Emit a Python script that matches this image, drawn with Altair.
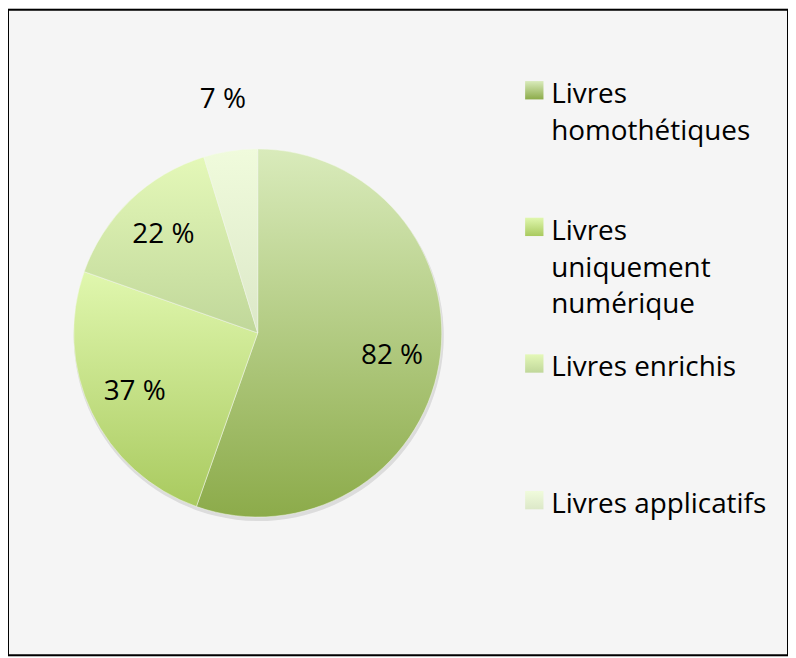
import altair as alt
import pandas as pd

categories = ["Livres homothétiques", "Livres uniquement numérique", "Livres enrichis", "Livres applicatifs"]
legend_labels = ["Livres\nhomothétiques", "Livres\nuniquement\nnumérique", "Livres enrichis", "Livres applicatifs"]
values = [82, 37, 22, 7]
label_texts = ["82 %", "37 %", "22 %", "7 %"]
top_colors = ["#d9ebbb", "#e0f7ae", "#e4f8b8", "#f0fbdc"]
bottom_colors = ["#8cab4a", "#a9ca5f", "#c0d79a", "#dce8c8"]

df = pd.DataFrame({
    "cat": categories,
    "legend": legend_labels,
    "value": values,
    "label": label_texts,
    "idx": list(range(len(categories))),
})

W, H = 784, 649
CX, CY = 251, 325
R = 185
FONT = "Open Sans"
FS = 28

theta_scale = alt.Scale(domain=[0, sum(values)], nice=False, zero=True)

base = (
    alt.Chart(df)
    .transform_window(end="sum(value)", sort=[alt.SortField("idx")], frame=[None, 0])
    .transform_calculate(start="datum.end - datum.value", mid="datum.end - datum.value / 2")
)

def grad(i):
    return alt.Gradient(
        gradient="linear", x1=0, y1=0, x2=0, y2=1,
        stops=[alt.GradientStop(color=top_colors[i], offset=0),
               alt.GradientStop(color=bottom_colors[i], offset=1)],
    )

layers = []

# soft shadow
layers.append(
    base.mark_arc(outerRadius=R + 1, fill="#000000", opacity=0.10).encode(
        theta=alt.Theta("start:Q", scale=theta_scale), theta2="end:Q",
        x=alt.value(CX + 1), y=alt.value(CY + 3),
    )
)

leg_y = alt.Y("cat:N", sort=categories, scale=alt.Scale(type="point", range=[81, 493], padding=0), axis=None)

for i in range(len(categories)):
    layers.append(
        base.transform_filter(alt.datum.idx == i)
        .mark_arc(outerRadius=R, fill=grad(i), stroke="#f4f8ee", strokeWidth=0.5)
        .encode(
            theta=alt.Theta("start:Q", scale=theta_scale), theta2="end:Q",
            x=alt.value(CX), y=alt.value(CY),
        )
    )
    layers.append(
        base.transform_filter(alt.datum.idx == i)
        .mark_square(size=340, fill=grad(i), opacity=1, strokeWidth=0)
        .encode(y=leg_y, x=alt.value(529))
    )

# legend texts
layers.append(
    base.mark_text(align="left", baseline="alphabetic", lineBreak="\n", lineHeight=37,
                   fontSize=FS, font=FONT, dy=13, color="#000000")
    .encode(y=leg_y, x=alt.value(546), text="legend:N")
)

# inside labels
layers.append(
    base.transform_filter("datum.value >= 10")
    .mark_text(radius=137, fontSize=FS, font=FONT, color="#000000", align="center", baseline="middle")
    .encode(theta=alt.Theta("mid:Q", scale=theta_scale), x=alt.value(CX), y=alt.value(CY), text="label:N")
)
# outside labels
layers.append(
    base.transform_filter("datum.value < 10")
    .mark_text(radius=237, fontSize=FS, font=FONT, color="#000000", align="center", baseline="middle")
    .encode(theta=alt.Theta("mid:Q", scale=theta_scale), x=alt.value(CX), y=alt.value(CY), text="label:N")
)

chart = (
    alt.layer(*layers)
    .properties(
        width=W, height=H, background="#f5f5f5", padding=0,
        autosize=alt.AutoSizeParams(type="fit", contains="padding"),
    )
    .configure_view(stroke="#000000", strokeWidth=2)
)

chart.save("out.html", embed_options={"renderer": "svg", "actions": False})
